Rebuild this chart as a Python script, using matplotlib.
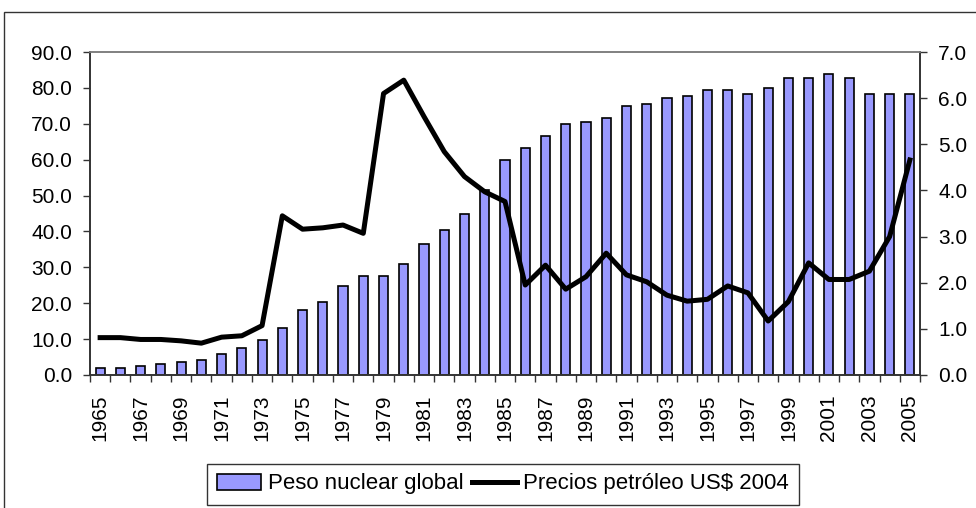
import numpy as np
import matplotlib
matplotlib.use("Agg")
import matplotlib.pyplot as plt
from matplotlib.patches import Rectangle

plt.rcParams["font.family"] = ["Liberation Sans", "DejaVu Sans"]

years = list(range(1965, 2006))

# peso nuclear global (left axis)
nuclear = [2.0, 2.0, 2.6, 3.2, 3.6, 4.3, 5.9, 7.6, 9.8, 13.2,
           18.2, 20.4, 24.9, 27.7, 27.7, 30.9, 36.6, 40.4, 44.9, 51.5,
           59.9, 63.2, 66.6, 69.9, 70.6, 71.6, 74.9, 75.6, 77.2, 77.7,
           79.4, 79.4, 78.4, 79.9, 82.7, 82.7, 83.8, 82.7, 78.4, 78.4,
           78.4]

# precios petroleo US$ 2004 (right axis)
oil = [0.81, 0.81, 0.77, 0.77, 0.74, 0.69, 0.82, 0.85, 1.07, 3.45,
       3.16, 3.19, 3.25, 3.07, 6.10, 6.39, 5.60, 4.84, 4.30, 3.97,
       3.76, 1.95, 2.38, 1.86, 2.13, 2.64, 2.17, 2.02, 1.73, 1.60,
       1.64, 1.93, 1.78, 1.17, 1.59, 2.43, 2.07, 2.07, 2.25, 3.00,
       4.66]

left_ticks = np.arange(0, 91, 10)
right_ticks = np.arange(0, 8, 1)

# the title is cut off by the top edge in the reference, only descenders show
title = "Energía nuclear (TWh, 1965-2005) y precios del crudo frente a la generación global"

fig = plt.figure(figsize=(9.76, 5.08), dpi=100)

# outer chart border (cut by the image edges)
fig.add_artist(Rectangle((4 / 976, -0.1), 1.2, 1.1 - 12 / 508, transform=fig.transFigure,
                         fill=False, edgecolor="#333333", linewidth=1.0))
fig.text(0.5, 1.0 + 2.5 / 508, title, ha="center", va="baseline",
         fontsize=12.5, fontweight="bold")

ax = fig.add_axes([90 / 976, 1 - 375 / 508, 830 / 976, 323 / 508])
ax2 = ax.twinx()

x = np.arange(len(years))
bars = ax.bar(x, nuclear, width=0.45, color="#9999FF", edgecolor="black",
              linewidth=1.2, label="Peso nuclear global")
line, = ax2.plot(x, oil, color="black", linewidth=3.6,
                 label="Precios petróleo US$ 2004")

ax.set_xlim(-0.5, len(years) - 0.5)
ax.set_ylim(0, 90)
ax2.set_ylim(0, 7)

ax.set_yticks(left_ticks)
ax.set_yticklabels([f"{v:.1f}" for v in left_ticks])
ax2.set_yticks(right_ticks)
ax2.set_yticklabels([f"{v:.1f}" for v in right_ticks])

ax.set_xticks(x[::2])
ax.set_xticklabels([str(y) for y in years[::2]], rotation=90)
ax.set_xticks(np.arange(-0.5, len(years), 1), minor=True)
ax.tick_params(axis="x", which="major", length=0, pad=14, labelsize=15)
ax.tick_params(axis="x", which="minor", length=5, width=1, color="#333333")
ax.tick_params(axis="y", length=5, width=1, color="#333333", pad=8, labelsize=15)
ax2.tick_params(axis="y", length=5, width=1, color="#333333", pad=8, labelsize=15)

for a in (ax, ax2):
    for side in ("left", "right", "bottom"):
        a.spines[side].set_color("#333333")
        a.spines[side].set_linewidth(1.2)
    a.spines["top"].set_color("#808080")
    a.spines["top"].set_linewidth(1.2)

leg = fig.legend([bars, line], ["Peso nuclear global", "Precios petróleo US$ 2004"],
                 loc="center", bbox_to_anchor=(503 / 976, 1 - 484 / 508), ncol=2,
                 fontsize=16, frameon=True, fancybox=False, handlelength=2.0,
                 handletextpad=0.3, columnspacing=0.4, borderpad=0.45)
leg.get_frame().set_edgecolor("black")
leg.get_frame().set_linewidth(1.0)

fig.savefig("out.png", dpi=100)
plt.close(fig)
